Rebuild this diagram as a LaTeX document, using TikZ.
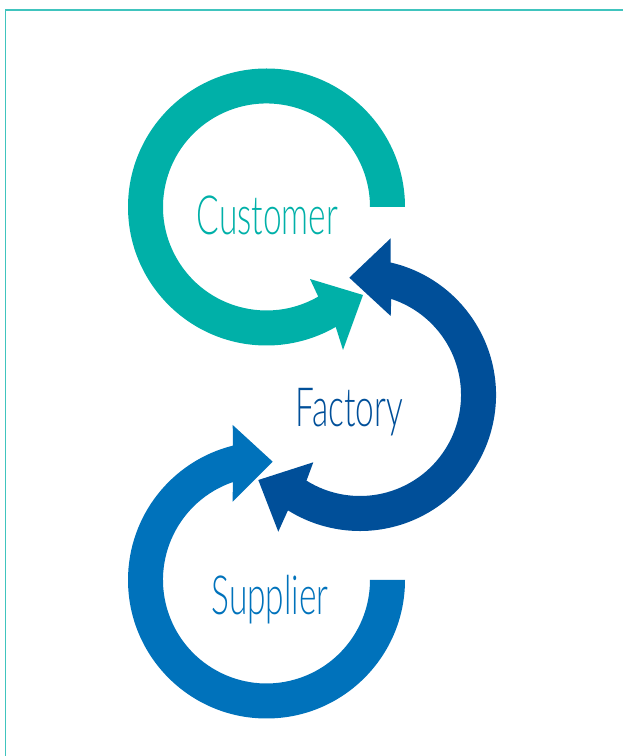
\documentclass[tikz,border=0pt]{standalone}
\usepackage{fontspec}
\newfontfamily\labelfont[FakeStretch=0.62]{Lato Light}
\definecolor{custteal}{RGB}{0,176,168}
\definecolor{factblue}{RGB}{0,79,153}
\definecolor{suppblue}{RGB}{0,114,187}
\definecolor{framecol}{RGB}{64,196,190}
\begin{document}
\begin{tikzpicture}[x=1pt,y=1pt,
  label/.style={anchor=base,inner sep=0pt,font=\labelfont\fontsize{54}{60}\selectfont}]
\useasboundingbox (0,0) rectangle (623,756);
\draw [framecol,line width=1.5pt](5.5,0)--(5.5,746)--(623,746);
% customer ring
\fill [custteal](405,549) arc (0:300:138.5) --(343,406)--(363,461)--(310,477)
--(318.25,459.4) arc (300:0:103.5) --cycle;
% factory ring, two heads
\fill [factblue](390.6,493.5) arc (77:-122:136) --(278.3,224.3)--(258.3,276)--(313.3,293.7)
--(306.5,275.35) arc (-122:72:101) --(390.7,440)--(349.3,478.3)--(390.7,517.7)--cycle;
% supplier ring
\fill [suppblue](405,176) arc (0:-256:138.5) --(232.7,331)--(272.7,294.3)--(232.7,254.3)
--(232.8,273.9) arc (-251:0:103.5) --cycle;
\node [label,custteal](customer)at(267.5,521){Customer};
\node [label,factblue](factory)at(349.5,329.3){Factory};
\node [label,suppblue](supplier)at(270,141){Supplier};
\end{tikzpicture}
\end{document}
